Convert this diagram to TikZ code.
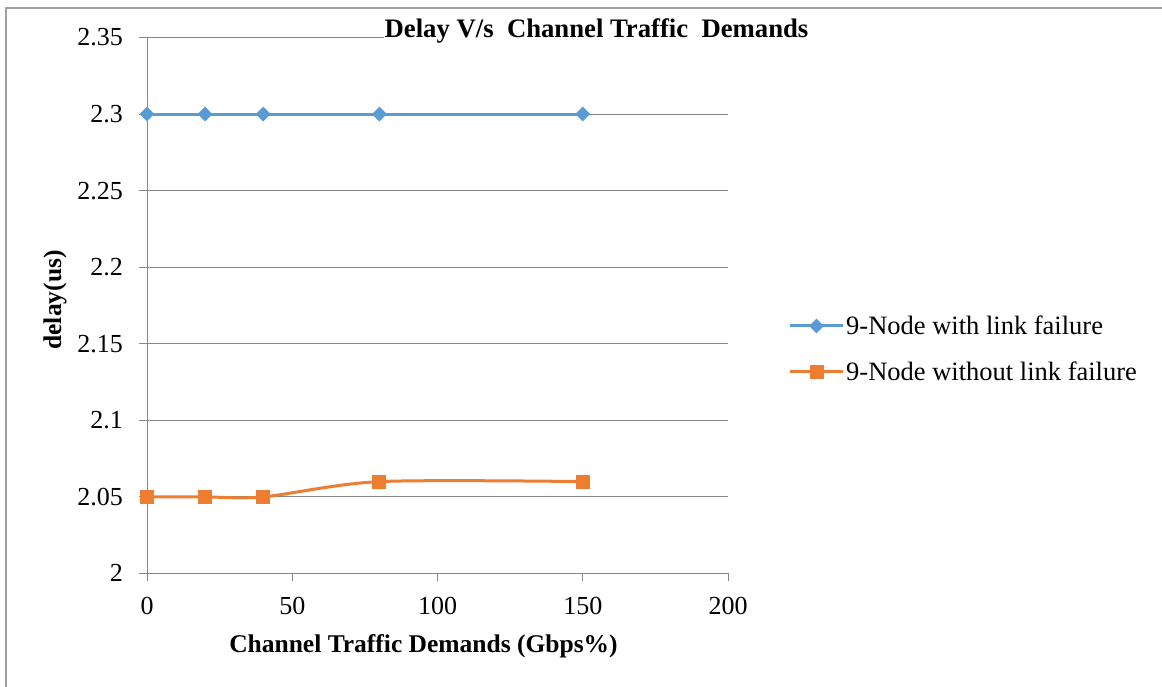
\documentclass[tikz,border=0pt]{standalone}
\usepackage{fontspec}
\setmainfont{Liberation Serif}
\usetikzlibrary{shapes.geometric}
\definecolor{serblue}{HTML}{5B9BD5}
\definecolor{serorange}{HTML}{ED7D31}
\definecolor{gridgray}{HTML}{878787}
\definecolor{framegray}{HTML}{A0A0A0}
\begin{document}
\begin{tikzpicture}[x=1pt,y=1pt,
  lbl/.style={font=\fontsize{26}{30}\selectfont, inner sep=0pt},
  leglbl/.style={font=\fontsize{26.5}{30}\selectfont, inner sep=0pt},
  blbl/.style={font=\fontsize{25.5}{30}\selectfont\bfseries, inner sep=0pt},
  titlelbl/.style={font=\fontsize{26.7}{30}\selectfont\bfseries, inner sep=1pt, fill=white},
  gridline/.style={draw=gridgray, line width=1pt},
  bluel/.style={draw=serblue, line width=3pt},
  orangel/.style={draw=serorange, line width=3pt},
  dmark/.style={diamond, fill=serblue, minimum width=15pt, minimum height=15pt, inner sep=0pt},
  smark/.style={rectangle, fill=serorange, minimum size=14pt, inner sep=0pt}]
\useasboundingbox (0,0) rectangle (1162,687);
\fill[white] (0,0) rectangle (1162,687);
\draw[framegray, line width=2pt] (5.7,0) -- (5.7,679.3) -- (1162,679.3);
\begin{scope}[shift={(147,113.5)}, x=2.905pt, y=1531.4pt]
  \foreach \i in {1,...,7} \draw[gridline] ([xshift=-8pt]0,\i*0.05) -- (200,\i*0.05);
  \draw[gridline] ([xshift=-8pt]0,0) -- (200,0);
  \draw[gridline] (0,0) -- (0,0.35);
  \foreach \v in {0,50,...,200} \draw[gridline] (\v,0) -- ++(0,-8pt);
  \foreach \i/\t in {0/2,1/2.05,2/2.1,3/2.15,4/2.2,5/2.25,6/2.3,7/2.35}
    \node[lbl, anchor=base east] (yl\i) at ([xshift=-24pt, yshift=-8.5pt]0,\i*0.05) {\t};
  \foreach \v in {0,50,...,200}
    \node[lbl, anchor=base] (xl\v) at ([yshift=-41.5pt]\v,0) {\v};
  % data
  \coordinate (a1) at (0,0.3);
  \coordinate (a2) at (20,0.3);
  \coordinate (a3) at (40,0.3);
  \coordinate (a4) at (80,0.3);
  \coordinate (a5) at (150,0.3);
  \coordinate (b1) at (0,0.05);
  \coordinate (b2) at (20,0.05);
  \coordinate (b3) at (40,0.05);
  \coordinate (b4) at (80,0.06);
  \coordinate (b5) at (150,0.06);
  \draw[bluel] (a1) -- (a2) -- (a3) -- (a4) -- (a5);
  \draw[orangel] plot[smooth, tension=0.5] coordinates {(b1) (b2) (b3) (b4) (b5)};
  \foreach \k in {1,...,5} {
    \node[dmark] (ma\k) at (a\k) {};
    \node[smark] (mb\k) at (b\k) {};
  }
\end{scope}
% title
\node[titlelbl, anchor=base] (title) at (596.5,649) {Delay V/s\ \ Channel Traffic\ \ Demands};
% axis titles
\node[blbl, anchor=base] (xtitle) at (423.5,34) {Channel Traffic Demands (Gbps\%)};
\node[blbl, anchor=base, rotate=90] (ytitle) at (61,387) {delay(us)};
% legend
\coordinate (la1) at (790,361);
\coordinate (la2) at (843,361);
\draw[bluel] (la1) -- (la2);
\node[dmark] (lma) at (816.5,361) {};
\node[leglbl, anchor=base west] (lta) at (846,352) {9-Node with link failure};
\coordinate (lb1) at (790,315);
\coordinate (lb2) at (843,315);
\draw[orangel] (lb1) -- (lb2);
\node[smark] (lmb) at (816.5,315) {};
\node[leglbl, anchor=base west] (ltb) at (846,306) {9-Node without link failure};
\end{tikzpicture}
\end{document}
